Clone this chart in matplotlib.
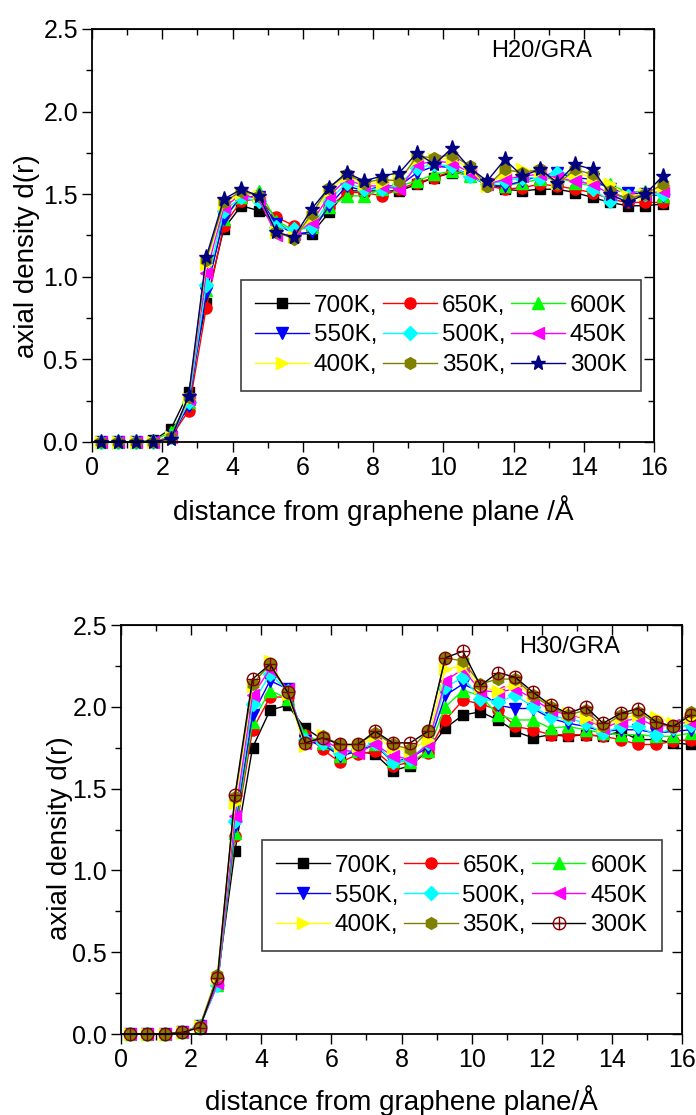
import numpy as np
import matplotlib
matplotlib.use("Agg")
import matplotlib.pyplot as plt
from matplotlib.path import Path
from matplotlib.ticker import MultipleLocator

plt.rcParams['font.family'] = ['Liberation Sans', 'DejaVu Sans']

# distance from graphene plane (A)
dist = [0.25, 0.75, 1.25, 1.75, 2.25, 2.75, 3.25, 3.75, 4.25, 4.75, 5.25,
        5.75, 6.25, 6.75, 7.25, 7.75, 8.25, 8.75, 9.25, 9.75, 10.25, 10.75,
        11.25, 11.75, 12.25, 12.75, 13.25, 13.75, 14.25, 14.75, 15.25, 15.75, 16.25]

temps = ["700K", "650K", "600K", "550K", "500K", "450K", "400K", "350K", "300K"]

# ---- H20/GRA ----
h20_700 = [0, 0, 0, 0.01, 0.08, 0.30, 0.84, 1.29, 1.43, 1.40, 1.33, 1.26, 1.26, 1.39, 1.52, 1.52, 1.52,
           1.52, 1.56, 1.60, 1.63, 1.62, 1.57, 1.53, 1.52, 1.53, 1.53, 1.51, 1.48, 1.45, 1.43, 1.43, 1.44]
h20_650 = [0, 0, 0, 0, 0.03, 0.19, 0.81, 1.31, 1.46, 1.47, 1.36, 1.31, 1.29, 1.42, 1.51, 1.51, 1.49,
           1.53, 1.57, 1.60, 1.64, 1.62, 1.55, 1.53, 1.54, 1.56, 1.55, 1.53, 1.51, 1.47, 1.45, 1.45, 1.45]
h20_600 = [0, 0, 0, 0.01, 0.06, 0.24, 0.92, 1.35, 1.48, 1.52, 1.34, 1.28, 1.30, 1.42, 1.49, 1.49, 1.53,
           1.55, 1.58, 1.62, 1.64, 1.61, 1.56, 1.55, 1.57, 1.59, 1.60, 1.57, 1.55, 1.56, 1.51, 1.52, 1.49]
h20_550 = [0, 0, 0, 0, 0.03, 0.22, 0.90, 1.35, 1.49, 1.48, 1.32, 1.26, 1.27, 1.43, 1.55, 1.52, 1.55,
           1.55, 1.63, 1.67, 1.66, 1.62, 1.55, 1.55, 1.58, 1.61, 1.63, 1.60, 1.59, 1.53, 1.51, 1.50, 1.49]
h20_500 = [0, 0, 0, 0, 0.03, 0.24, 0.95, 1.40, 1.48, 1.46, 1.30, 1.29, 1.30, 1.46, 1.57, 1.53, 1.53,
           1.56, 1.66, 1.68, 1.67, 1.61, 1.56, 1.58, 1.60, 1.60, 1.63, 1.62, 1.53, 1.46, 1.49, 1.50, 1.50]
h20_450 = [0, 0, 0, 0, 0.03, 0.26, 1.02, 1.42, 1.50, 1.47, 1.25, 1.26, 1.33, 1.49, 1.59, 1.55, 1.55,
           1.53, 1.68, 1.70, 1.69, 1.63, 1.56, 1.59, 1.61, 1.62, 1.60, 1.58, 1.56, 1.50, 1.48, 1.50, 1.52]
h20_400 = [0, 0, 0, 0, 0.03, 0.26, 1.08, 1.44, 1.51, 1.49, 1.27, 1.24, 1.36, 1.52, 1.61, 1.56, 1.57,
           1.59, 1.71, 1.71, 1.72, 1.65, 1.55, 1.63, 1.65, 1.64, 1.57, 1.63, 1.60, 1.56, 1.49, 1.50, 1.55]
h20_350 = [0, 0, 0, 0, 0.03, 0.27, 1.10, 1.45, 1.52, 1.49, 1.27, 1.23, 1.38, 1.54, 1.62, 1.57, 1.59,
           1.58, 1.73, 1.72, 1.74, 1.67, 1.55, 1.65, 1.63, 1.65, 1.56, 1.65, 1.62, 1.52, 1.47, 1.50, 1.56]
h20_300 = [0, 0, 0, 0, 0.02, 0.28, 1.12, 1.47, 1.53, 1.49, 1.27, 1.24, 1.41, 1.54, 1.63, 1.58, 1.61,
           1.63, 1.75, 1.68, 1.78, 1.66, 1.58, 1.71, 1.61, 1.65, 1.57, 1.68, 1.65, 1.50, 1.45, 1.50, 1.61]

# ---- H30/GRA ----
h30_700 = [0, 0, 0, 0.01, 0.05, 0.33, 1.12, 1.75, 1.98, 2.01, 1.87, 1.80, 1.70, 1.73, 1.71, 1.61, 1.64,
           1.73, 1.87, 1.95, 1.97, 1.92, 1.85, 1.81, 1.83, 1.82, 1.83, 1.82, 1.85, 1.80, 1.80, 1.78, 1.77]
h30_650 = [0, 0, 0, 0.01, 0.05, 0.31, 1.21, 1.86, 2.06, 2.06, 1.83, 1.74, 1.66, 1.71, 1.73, 1.64, 1.66,
           1.72, 1.92, 2.04, 2.02, 1.98, 1.88, 1.86, 1.83, 1.83, 1.83, 1.82, 1.80, 1.77, 1.77, 1.79, 1.80]
h30_600 = [0, 0, 0, 0.01, 0.05, 0.30, 1.23, 1.91, 2.10, 2.05, 1.83, 1.78, 1.70, 1.73, 1.77, 1.67, 1.66,
           1.73, 2.00, 2.10, 2.07, 1.95, 1.92, 1.92, 1.87, 1.88, 1.86, 1.84, 1.83, 1.83, 1.82, 1.82, 1.84]
h30_550 = [0, 0, 0, 0.01, 0.05, 0.30, 1.27, 1.95, 2.16, 2.11, 1.79, 1.77, 1.70, 1.73, 1.77, 1.66, 1.69,
           1.75, 2.07, 2.14, 2.09, 2.01, 1.99, 1.99, 1.93, 1.90, 1.88, 1.85, 1.86, 1.86, 1.84, 1.85, 1.86]
h30_500 = [0, 0, 0, 0.01, 0.05, 0.30, 1.30, 2.02, 2.20, 2.10, 1.80, 1.78, 1.72, 1.74, 1.78, 1.66, 1.68,
           1.78, 2.12, 2.18, 2.05, 2.03, 2.07, 2.00, 1.94, 1.93, 1.90, 1.84, 1.88, 1.88, 1.83, 1.87, 1.89]
h30_450 = [0, 0, 0, 0.01, 0.05, 0.31, 1.33, 2.07, 2.23, 2.11, 1.78, 1.80, 1.74, 1.72, 1.77, 1.70, 1.68,
           1.77, 2.16, 2.23, 2.10, 2.09, 2.11, 2.05, 1.98, 1.95, 1.93, 1.87, 1.91, 1.93, 1.88, 1.89, 1.91]
h30_400 = [0, 0, 0, 0.01, 0.05, 0.34, 1.41, 2.13, 2.28, 2.08, 1.76, 1.83, 1.76, 1.76, 1.82, 1.75, 1.73,
           1.80, 2.23, 2.25, 2.12, 2.10, 2.14, 2.07, 2.01, 1.96, 1.93, 1.88, 1.93, 1.95, 1.94, 1.90, 1.93]
h30_350 = [0, 0, 0, 0.01, 0.05, 0.36, 1.45, 2.14, 2.26, 2.09, 1.78, 1.82, 1.77, 1.77, 1.84, 1.77, 1.74,
           1.85, 2.30, 2.28, 2.14, 2.17, 2.17, 2.07, 2.00, 1.95, 1.98, 1.88, 1.95, 1.97, 1.90, 1.88, 1.97]
h30_300 = [0, 0, 0, 0.01, 0.04, 0.34, 1.46, 2.17, 2.26, 2.09, 1.78, 1.81, 1.77, 1.77, 1.85, 1.78, 1.78,
           1.85, 2.30, 2.34, 2.13, 2.21, 2.18, 2.09, 2.01, 1.96, 2.00, 1.90, 1.96, 1.99, 1.91, 1.88, 1.95]

h20 = [h20_700, h20_650, h20_600, h20_550, h20_500, h20_450, h20_400, h20_350, h20_300]
h30 = [h30_700, h30_650, h30_600, h30_550, h30_500, h30_450, h30_400, h30_350, h30_300]

colors = ["#000000", "#ff0000", "#00ff00", "#0000ff", "#00ffff", "#ff00ff", "#ffff00", "#808000", "#000080"]
markers = ["s", "o", "^", "v", "D", "<", ">", "h", "*"]
msizes = [7, 8, 8.5, 8.5, 7, 8.5, 8.5, 8.5, 11]

# circle with a cross, for 300K in the lower panel
oplus = Path.make_compound_path(
    Path.unit_circle(),
    Path([(-1, 0), (1, 0), (0, -1), (0, 1)],
         [Path.MOVETO, Path.LINETO, Path.MOVETO, Path.LINETO]))


def style_axes(ax):
    ax.set_xlim(0, 16)
    ax.set_ylim(0, 2.5)
    ax.xaxis.set_major_locator(MultipleLocator(2))
    ax.xaxis.set_minor_locator(MultipleLocator(1))
    ax.yaxis.set_major_locator(MultipleLocator(0.5))
    ax.yaxis.set_minor_locator(MultipleLocator(0.25))
    ax.yaxis.set_major_formatter(matplotlib.ticker.FormatStrFormatter("%.1f"))
    ax.tick_params(which="both", direction="out", labelsize=18, width=1, pad=3)
    ax.tick_params(which="major", length=7)
    ax.tick_params(which="minor", length=4)
    for s in ax.spines.values():
        s.set_linewidth(1.3)
    top = ax.secondary_xaxis("top")
    top.xaxis.set_major_locator(MultipleLocator(2))
    top.xaxis.set_minor_locator(MultipleLocator(1))
    top.tick_params(which="both", direction="in", labeltop=False, width=1)
    top.tick_params(which="major", length=7)
    top.tick_params(which="minor", length=4)
    right = ax.secondary_yaxis("right")
    right.yaxis.set_major_locator(MultipleLocator(0.5))
    right.yaxis.set_minor_locator(MultipleLocator(0.25))
    right.tick_params(which="both", direction="in", labelright=False, width=1)
    right.tick_params(which="major", length=7)
    right.tick_params(which="minor", length=4)


def draw_panel(ax, data, last_style, tag, xlabel, ylab_x, ylab_y, xlab_y, leg_anchor):
    handles = []
    for i, (vals, t) in enumerate(zip(data, temps)):
        label = t + "," if i % 3 != 2 else t
        if i == 8 and last_style == "oplus":
            h, = ax.plot(dist, vals, color="#000000", lw=1, marker=oplus, ms=9,
                         mfc="none", mec="#800000", mew=1, clip_on=False, label=label)
        else:
            h, = ax.plot(dist, vals, color=colors[i], lw=1, marker=markers[i], ms=msizes[i],
                         mfc=colors[i], mec=colors[i], clip_on=False, label=label)
        handles.append(h)
    style_axes(ax)
    ax.set_xlabel(xlabel, fontsize=20)
    ax.set_ylabel("axial density d(r)", fontsize=20)
    ax.yaxis.set_label_coords(ylab_x, ylab_y)
    ax.xaxis.set_label_coords(0.5, xlab_y)
    ax.text(0.80, 0.947, tag, transform=ax.transAxes, fontsize=17, ha="center", va="center")
    order = [0, 3, 6, 1, 4, 7, 2, 5, 8]
    leg = ax.legend([handles[k] for k in order], [handles[k].get_label() for k in order],
                    ncol=3, loc="upper right", bbox_to_anchor=leg_anchor, fontsize=17.5,
                    numpoints=1, handlelength=2.2, handletextpad=0.2, columnspacing=0.25,
                    labelspacing=0.32, borderpad=0.6, fancybox=False, framealpha=1,
                    edgecolor="#404040", borderaxespad=0)
    leg.get_frame().set_linewidth(1.2)


fig = plt.figure(figsize=(6.96, 11.15), dpi=100)
ax1 = fig.add_axes([0.1322, 0.6036, 0.8075, 0.3704])
ax2 = fig.add_axes([0.1739, 0.0726, 0.806, 0.3668])

draw_panel(ax1, h20, "star", "H20/GRA", "distance from graphene plane /\u00c5",
           -0.093, 0.45, -0.13, (0.977, 0.392))
draw_panel(ax2, h30, "oplus", "H30/GRA", "distance from graphene plane/\u00c5",
           -0.085, 0.48, -0.125, (0.964, 0.474))

fig.savefig("out.png", dpi=100)
